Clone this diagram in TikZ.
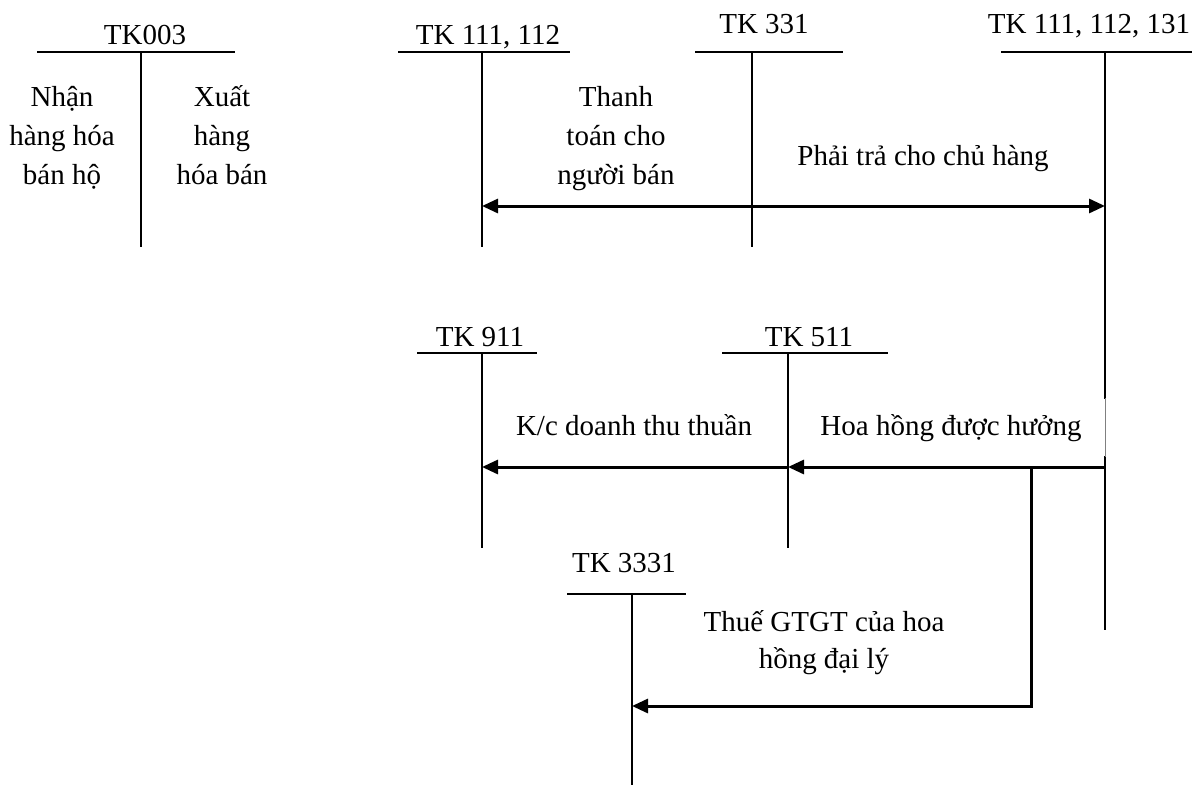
\documentclass[tikz,border=0pt]{standalone}
\usepackage{fontspec}
\setmainfont{Liberation Serif}
\usetikzlibrary{arrows.meta}
\begin{document}
\begin{tikzpicture}[x=1pt,y=-1pt,
  tline/.style={line width=2pt},
  flow/.style={line width=3pt,-{Triangle[length=16pt,width=14pt]}},
  lbl/.style={font=\fontsize{29}{39}\selectfont, inner sep=0pt, align=center, anchor=base},
]
\useasboundingbox (0,0) rectangle (1203,785);

% ---- T-account titles ----
\node[lbl] (n003)   at (145,44)  {TK003};
\node[lbl] (n111)   at (488,44)  {TK 111, 112};
\node[lbl] (n331)   at (764,33)  {TK 331};
\node[lbl] (n111b)  at (1089,33) {TK 111, 112, 131};
\node[lbl] (n911)   at (480,346) {TK 911};
\node[lbl] (n511)   at (809,346) {TK 511};
\node[lbl] (n3331)  at (624,572) {TK 3331};

% ---- T-account bars ----
\draw[tline] (37,52) -- (235,52)  (141,52) -- (141,247);
\draw[tline] (398,52) -- (570,52) (482,52) -- (482,247);
\draw[tline] (695,52) -- (843,52) (752,52) -- (752,247);
\draw[tline] (1001,52) -- (1192,52) (1105,52) -- (1105,630);
\draw[tline] (417,353) -- (537,353) (482,353) -- (482,548);
\draw[tline] (722,353) -- (888,353) (788,353) -- (788,548);
\draw[tline] (567,594) -- (686,594) (632,594) -- (632,785);

% ---- TK003 contents (base = last line) ----
\node[lbl] (nhan) at (62,184)  {Nhận\\hàng hóa\\bán hộ};
\node[lbl] (xuat) at (222,184) {Xuất\\hàng\\hóa bán};

% ---- connection points ----
\coordinate (p111)  at (482,206);
\coordinate (p331)  at (752,206);
\coordinate (p111b) at (1105,206);
\coordinate (q911)  at (482,467);
\coordinate (q511)  at (788,467);
\coordinate (q111b) at (1105,467);
\coordinate (qbr)   at (1031,467);
\coordinate (rbr)   at (1031,706);
\coordinate (r3331) at (632,706);

% ---- flows ----
\draw[flow] (p331) -- (p111);
\draw[flow] (p331) -- (p111b);
\draw[flow] (q511) -- (q911);
\draw[flow] (q111b) -- (q511);
\draw[flow] (qbr) -- (rbr) -- (r3331);

% ---- flow labels ----
\node[lbl] (thanh) at (616,184) {Thanh\\toán cho\\người bán};
\node[lbl] (phai)  at (923,165) {Phải trả cho chủ hàng};
\node[lbl] (kc)    at (634,435) {K/c doanh thu thuần};
\node[lbl, fill=white, inner xsep=26pt, inner ysep=15pt] (hoa) at (951,435) {Hoa hồng được hưởng};
\draw[line width=0.5pt, gray] (1105,398) -- (1105,457);
\node[lbl, font=\fontsize{29}{37}\selectfont] (thue) at (824,668) {Thuế GTGT của hoa\\hồng đại lý};
\end{tikzpicture}
\end{document}
